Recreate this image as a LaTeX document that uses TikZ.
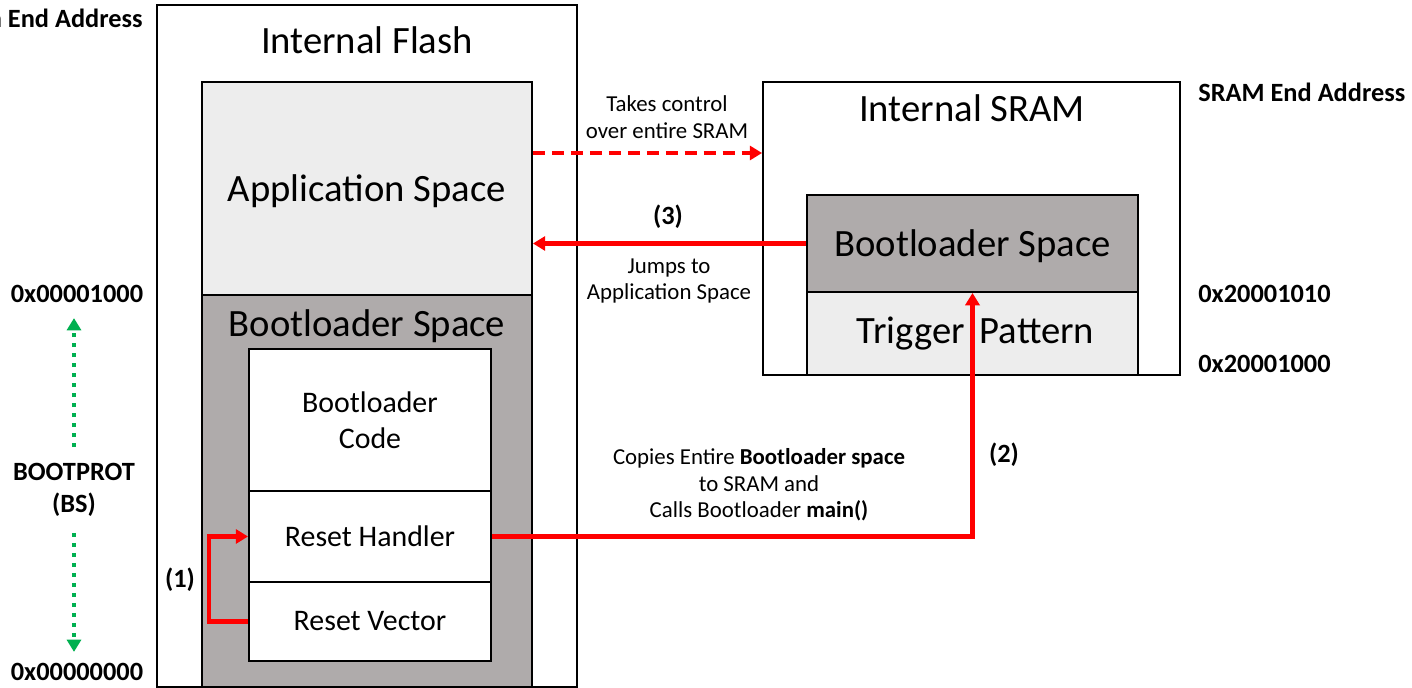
\documentclass[tikz,border=0pt]{standalone}
\usepackage{fontspec}
\setmainfont{Carlito}
\usepackage{xcolor}
\usetikzlibrary{arrows.meta, positioning, calc}

\definecolor{blgray}{HTML}{AFABAB}
\definecolor{appgray}{HTML}{EDEDED}
\definecolor{bsgreen}{HTML}{00B050}

\tikzset{
  mem/.style={draw, line width=1.1pt, inner sep=0pt},
  bigtxt/.style={font=\fontsize{22}{26}\selectfont},
  midtxt/.style={font=\fontsize{17}{20.5}\selectfont, align=center},
  smalltxt/.style={font=\fontsize{13}{15.2}\selectfont, align=center},
  addr/.style={font=\fontsize{15}{18}\selectfont\bfseries, inner sep=0pt},
  flow/.style={draw=red, line width=2.5pt, -{Triangle[width=8pt,length=7pt]}},
  bsarrow/.style={draw=bsgreen, line width=2.3pt, dash pattern=on 2.3pt off 3.4pt,
    -{Triangle[width=8pt,length=7pt]}}
}

\begin{document}
\begin{tikzpicture}[x=0.02cm, y=-0.02cm]
\useasboundingbox (0,0) rectangle (1412,688);

% Internal flash (left)
\node[mem, minimum width=8.4cm, minimum height=13.64cm] (flash) at (367,346) {};
\node[bigtxt] (flashtitle) at (367,40) {Internal Flash};
\node[mem, fill=appgray, minimum width=6.6cm, minimum height=4.26cm, bigtxt, text depth=0pt] (app) at (367,188.5) {Application Space};
\node[mem, fill=blgray, minimum width=6.6cm, minimum height=7.84cm] (blflash) at (367,491) {};
\node[bigtxt] (bltitle) at (367,326) {Bootloader Space};
\node[mem, fill=white, minimum width=4.84cm, minimum height=2.84cm, midtxt] (blcode) at (370,420) {Bootloader\\Code};
\node[mem, fill=white, minimum width=4.84cm, minimum height=1.82cm, midtxt] (reshand) at (370,536.5) {Reset Handler};
\node[mem, fill=white, minimum width=4.84cm, minimum height=1.58cm, midtxt] (resvec) at (370,621.5) {Reset Vector};

% Internal SRAM (right)
\node[mem, minimum width=8.34cm, minimum height=5.86cm] (sram) at (971.5,228.5) {};
\node[bigtxt] (sramtitle) at (972,108) {Internal SRAM};
\node[mem, fill=blgray, minimum width=6.62cm, minimum height=1.94cm, bigtxt, text depth=0pt] (blsram) at (972.5,243.5) {Bootloader Space};
\node[mem, fill=appgray, minimum width=6.62cm, minimum height=1.66cm, bigtxt] (trig) at (972.5,333.5) {\hspace{0.12cm}Trigger\hspace{0.3cm}Pattern};

% Addresses
\node[addr, anchor=east] (flashend) at (143,18) {Flash End Address};
\node[addr] (a1) at (77,294) {0x00001000};
\node[addr] (a0) at (77,672) {0x00000000};
\node[addr, align=center, inner xsep=0pt, inner ysep=0.32cm] (bp) at (74,490) {BOOTPROT\\(BS)};
\node[addr, anchor=west] (sramend) at (1198,92) {SRAM End Address};
\node[addr, anchor=west] (s1) at (1198,294) {0x20001010};
\node[addr, anchor=west] (s0) at (1198,364) {0x20001000};

\draw[bsarrow] (bp.north) -- ([yshift=-0.3cm]bp.north |- a1.south);
\draw[bsarrow] (bp.south) -- ([yshift=0.22cm]bp.south |- a0.north);

% Step (1)
\draw[flow] (resvec.west) -- ++(-39,0) |- (reshand.west);
\node[addr] (st1) at (180,580) {(1)};

% Step (2)
\draw[flow] (reshand.east) -| (blsram.south);
\node[addr] (st2) at (1004,455) {(2)};
\node[smalltxt] (copytxt) at (759,485) {Copies Entire \textbf{Bootloader space}\\to SRAM and\\Calls Bootloader \textbf{main()}};

% Step (3)
\draw[flow] (blsram.west) -- (blsram.west -| app.east);
\node[addr] (st3) at (668,217) {(3)};
\node[smalltxt] (jumptxt) at (669,281) {Jumps to\\Application Space};

% Application owns SRAM
\coordinate (ctl) at ([yshift=0.71cm]app.east);
\draw[flow, dash pattern=on 6.8pt off 4pt] (ctl) -- (ctl -| sram.west);
\node[smalltxt] (taketxt) at (667,117) {Takes control\\over entire SRAM};
\end{tikzpicture}
\end{document}
